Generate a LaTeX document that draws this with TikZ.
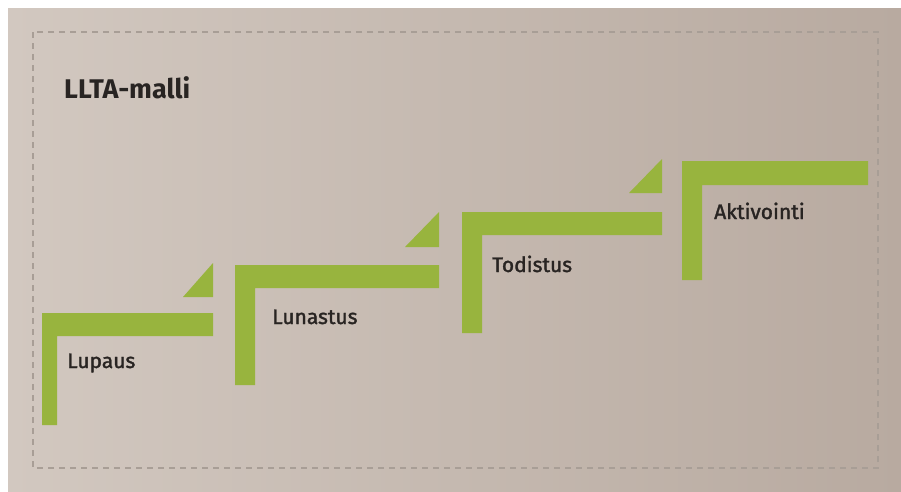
\documentclass[tikz,border=0pt]{standalone}
\usepackage{fontspec}
\setmainfont{Fira Sans}
\newfontfamily\lblfont[FakeBold=1.6]{Fira Sans}
\definecolor{stepgreen}{RGB}{152,180,62}
\definecolor{paperL}{RGB}{210,200,192}
\definecolor{paperM}{RGB}{214,204,198}
\definecolor{paperR}{RGB}{184,170,160}
\definecolor{ink}{RGB}{40,36,34}
\definecolor{dashgray}{RGB}{168,158,150}
\begin{document}
\begin{tikzpicture}[x=1pt,y=-1pt,
  stepbar/.style={fill=stepgreen},
  lbl/.style={font=\lblfont\fontsize{21}{24}\selectfont, text=ink, inner sep=0pt, anchor=base west},
  ttl/.style={font=\bfseries\fontsize{27}{30}\selectfont, text=ink, inner sep=0pt, anchor=base west}]
\useasboundingbox (0,0) rectangle (901,491);
\fill[white] (0,0) rectangle (901,491);
\shade[left color=paperL, middle color=paperM, right color=paperR] (8,8) rectangle (901,491);
\draw[dashgray, line width=1.2pt, dash pattern=on 6pt off 5pt] (33,32) rectangle (878,468);
% step 1
\fill[stepbar] (42,313) -- (213,313) -- (213,336) -- (57,336) -- (57,425) -- (42,425) -- cycle;
\fill[stepbar] (183,297) -- (213,263) -- (213,297) -- cycle;
% step 2
\fill[stepbar] (235,265) -- (439,265) -- (439,288) -- (255,288) -- (255,385) -- (235,385) -- cycle;
\fill[stepbar] (405,247) -- (439,212) -- (439,247) -- cycle;
% step 3
\fill[stepbar] (462,212) -- (662,212) -- (662,235) -- (482,235) -- (482,333) -- (462,333) -- cycle;
\fill[stepbar] (629,193) -- (662,159) -- (662,193) -- cycle;
% step 4
\fill[stepbar] (682,161) -- (868,161) -- (868,185) -- (702,185) -- (702,280) -- (682,280) -- cycle;
% texts
\node[ttl] (title) at (64,98) {LLTA-malli};
\node[lbl] (lupaus) at (67,368) {Lupaus};
\node[lbl] (lunastus) at (272,324) {Lunastus};
\node[lbl] (todistus) at (492,272) {Todistus};
\node[lbl] (aktivointi) at (714,219) {Aktivointi};
\end{tikzpicture}
\end{document}
